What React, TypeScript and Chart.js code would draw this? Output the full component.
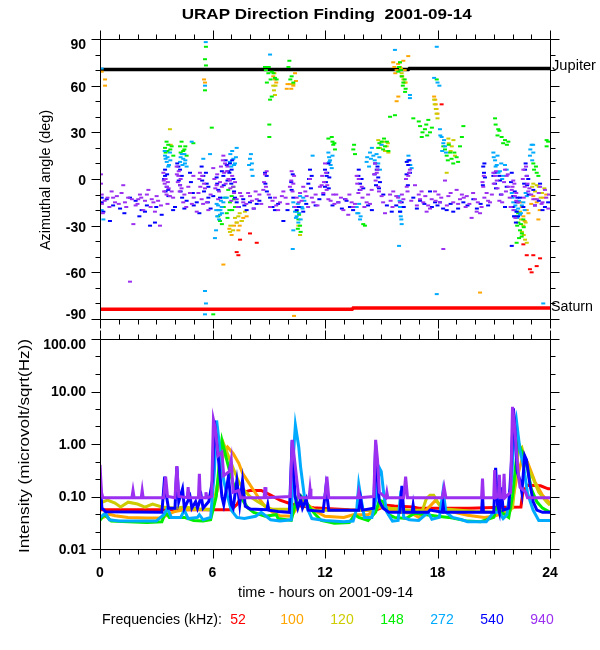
import React, { useEffect, useRef } from "react";
import { Chart, registerables } from "chart.js";

Chart.register(...registerables);

// ---------- labels / ticks ----------
const hourTicks = [0, 6, 12, 18, 24];
const angleTicks = [90, 60, 30, 0, -30, -60, -90];
const intensityTicks = [100, 10, 1, 0.1, 0.01];
const freqLabels = ["52", "100", "120", "148", "272", "540", "940"];
const freqColors = ["#ff0000", "#ffa500", "#cccc00", "#00ee00", "#00aaff", "#0000ff", "#9b30f0"];

// ---------- reference lines (time h, angle deg) ----------
const jupiterLine = [[0, 70.4], [16.45, 70.4], [16.5, 71.1], [24, 71.1]];
const saturnLine = [[0, -83.7], [13.45, -83.7], [13.5, -82.9], [24, -82.9]];

// ---------- azimuth points [hour, deg] ----------
const az940 = [
  [0.05, 3], [0.05, -3], [0.09, -10], [0.1, -16], [0.15, -22], [0.4, -12], [0.62, -8], [0.8, -15], [0.9, -11],
  [1.24, -4], [1.33, -15], [1.5, -12], [1.6, -66], [1.78, -29], [1.9, -17], [2.04, -13], [2.13, -10], [2.31, -20],
  [2.4, -14], [2.58, -7], [2.7, -18], [2.76, -13], [2.93, -21], [3.02, -11], [3.1, -14], [3.2, -30], [3.38, 4],
  [3.45, -3], [3.56, -5], [3.6, -16], [3.73, -11], [3.82, -8], [3.9, -12], [4.09, 8], [4.18, 2], [4.27, -4],
  [4.44, -15], [4.6, -18], [4.71, -5], [4.8, -9], [4.98, 2], [5.0, -12], [5.16, -21], [5.33, 4], [5.42, -13],
  [5.5, -16], [5.6, -6], [5.78, -20], [5.9, -10], [6.04, 7], [6.22, -4], [6.3, -13], [6.4, -2], [6.58, 15],
  [6.67, 10], [6.76, 5], [6.93, -1], [7.0, -14], [7.11, -5], [7.29, -13], [7.47, -9], [7.64, -15], [7.8, -16],
  [8.0, -11], [8.2, -19], [8.36, -13], [8.5, -10], [8.71, -7], [8.8, 3], [8.89, 5], [9.07, -18], [9.2, -14],
  [9.33, -12], [9.5, -20], [9.6, -15], [9.78, -8], [9.9, -12], [10.13, -5], [10.22, 5], [10.31, -3], [10.49, -12],
  [10.6, -15], [10.67, -9], [10.84, -5], [11.02, -11], [11.1, -18], [11.2, 0], [11.38, -15], [11.5, -10],
  [11.73, -5], [11.82, -4], [11.91, -9], [12.0, 10], [12.09, -7], [12.18, -13], [12.3, -14], [12.44, -10],
  [12.6, -10], [12.71, -15], [12.98, -20], [13.1, -13], [13.24, -23], [13.42, -15], [13.5, -18], [13.69, 2],
  [13.78, -9], [13.96, -5], [14.0, -12], [14.22, -15], [14.4, -16], [14.49, -7], [14.67, 10], [14.76, 4],
  [14.84, -5], [15.02, -11], [15.1, -15], [15.2, -22], [15.47, -10], [15.5, -14], [15.64, -8], [15.9, -12],
  [16.0, -15], [16.18, -13], [16.36, -5], [16.44, 2], [16.53, 6], [16.6, -14], [16.8, -4], [17.0, -10],
  [17.07, -13], [17.24, -15], [17.42, -21], [17.5, -17], [17.69, -13], [17.87, -8], [17.9, -14], [18.13, -15],
  [18.31, -45], [18.4, -1], [18.58, -11], [18.7, -9], [18.84, -15], [19.02, -7], [19.1, -16], [19.2, -13],
  [19.4, -12], [19.56, -11], [19.7, -16], [19.82, -25], [20.0, -13], [20.09, -21], [20.27, -22], [20.44, -5],
  [20.5, -12], [20.62, -9], [20.8, -15], [20.9, -10], [20.98, 4], [21.07, 2], [21.16, -1], [21.3, -14],
  [21.42, -10], [21.6, 6], [21.69, 2], [21.78, -5], [21.9, -18], [21.96, -7], [22.04, -1], [22.13, -11],
  [22.2, -9], [22.31, -15], [22.58, 6], [22.6, -12], [22.76, 2], [22.84, -8], [23.0, -10], [23.11, -13],
  [23.3, -13], [23.47, -5], [23.6, -15], [23.73, -7], [23.91, -19], [23.95, -10],
  [3.4, -1], [3.42, -8], [3.5, 0], [3.55, -10], [3.62, -2], [3.66, -6], [4.1, 3], [4.15, -2], [4.2, 5],
  [4.25, -8], [4.3, 0], [4.35, -6], [5.3, 0], [5.35, -5], [5.45, 2], [5.55, -3], [6.1, 0], [6.15, -6],
  [6.25, 3], [6.35, -8], [6.45, 8], [6.5, -5], [6.55, 12], [6.62, 4], [6.7, -3], [6.8, 8], [6.85, 0],
  [6.95, -6], [7.05, 2], [7.15, -9], [7.2, -2], [8.75, -2], [8.85, -5], [10.2, -1], [10.27, -8], [10.35, 2],
  [11.85, 2], [11.95, -2], [12.05, 4], [12.12, -4], [13.72, -3], [13.8, 0], [13.9, -7], [14.62, 3], [14.7, -1],
  [14.8, 6], [14.88, -8], [16.32, 0], [16.4, -8], [16.48, 4], [20.4, -2], [20.47, 2], [21.0, -3], [21.12, 5],
  [21.2, -6], [21.55, -2], [21.65, -8], [21.75, 3], [21.85, -12], [22.0, -5], [22.05, -20], [22.1, -3],
  [22.15, -25], [22.2, -14], [22.55, 0], [22.65, -5], [22.72, 8], [22.8, -3], [22.9, -6],
  [0.25, -14], [0.5, -18], [0.7, -12], [1.0, -16], [1.15, -9], [1.4, -18], [1.7, -13], [2.0, -16], [2.2, -12],
  [2.5, -10], [2.85, -15], [3.25, -17], [4.5, -10], [4.9, -16], [5.25, -9], [5.7, -15], [7.35, -18], [7.55, -11],
  [7.9, -9], [8.1, -14], [8.3, -8], [8.6, -16], [9.0, -10], [9.4, -17], [9.7, -11], [10.0, -16], [10.4, -18],
  [10.75, -14], [10.95, -8], [11.3, -12], [11.6, -17], [12.5, -16], [12.85, -12], [13.3, -10], [13.6, -16],
  [14.1, -18], [14.3, -10], [15.6, -18], [15.8, -11], [16.1, -10], [16.9, -17], [17.15, -8], [17.35, -11],
  [17.6, -19], [18.05, -10], [18.2, -12], [18.5, -17], [19.3, -10], [19.5, -18], [19.9, -9], [20.15, -15],
  [20.35, -18], [20.7, -14], [21.45, -15], [23.2, -17], [23.4, -9], [23.55, -16], [23.8, -12]
];
const az540 = [
  [0.09, -15], [0.09, -12], [0.18, -21], [0.36, -13], [0.53, -27], [1.07, -19], [1.6, -12], [2.22, -20],
  [2.4, -21], [2.67, -30], [2.93, -28], [3.29, -23], [3.47, 6], [3.47, 2], [3.56, -5], [3.64, -7], [4.0, -18],
  [4.18, 8], [4.27, 6], [4.36, 2], [4.27, -4], [4.62, -14], [4.8, 4], [5.16, -15], [5.42, 8], [5.51, 2],
  [5.69, -3], [5.78, -5], [5.78, -12], [6.04, -11], [6.22, 1], [6.31, -7], [6.58, 2], [6.76, 9], [6.84, 5],
  [6.93, 10], [7.02, 6], [7.11, 0], [7.29, -15], [7.64, -13], [7.82, -20], [8.0, -15], [8.36, -16], [8.8, 4],
  [8.89, 2], [9.07, -12], [9.33, -20], [9.78, -27], [10.22, -7], [10.31, -12], [10.49, -20], [10.84, -21],
  [11.11, -3], [11.2, 6], [11.29, 2], [11.91, -10], [12.0, 6], [12.09, 2], [12.0, -5], [12.18, 10], [12.23, 1],
  [12.71, -15], [13.07, -13], [13.33, -18], [13.78, 2], [13.87, -3], [14.04, -6], [14.67, 10], [14.76, 6],
  [14.84, 1], [14.93, -2], [15.11, -10], [15.56, -21], [16.0, -21], [16.09, -15], [16.36, 11], [16.44, 9],
  [16.53, 4], [16.71, -12], [17.07, -14], [17.6, -8], [17.87, -15], [18.13, -15], [18.49, -20], [18.84, -21],
  [19.38, -15], [19.91, -13], [20.44, 8], [20.48, 4], [20.53, 1], [20.98, 2], [21.07, -3], [21.33, -1],
  [21.69, -5], [21.96, 4], [21.96, -43], [22.04, -11], [22.22, -15], [22.22, -21], [22.4, -12], [22.58, -18],
  [22.67, 6], [22.76, 2], [22.84, 0], [23.11, -7], [23.47, -3], [23.73, -18],
  [3.42, 0], [3.5, -8], [3.58, 3], [3.65, -11], [4.12, 10], [4.2, -1], [4.3, -8], [4.38, -12], [4.85, -2],
  [4.95, -9], [5.45, -1], [5.55, -8], [5.65, 4], [5.75, -15], [6.25, -3], [6.4, -12], [6.5, 5], [6.6, -4],
  [6.7, 12], [6.8, -1], [6.9, 4], [7.0, -3], [7.05, 12], [7.15, -8], [7.2, -12], [8.82, -3], [8.9, -8],
  [10.2, -2], [10.28, 3], [11.15, 0], [11.25, -6], [12.05, -2], [12.12, 4], [12.2, -6], [13.8, 6], [13.85, -7],
  [13.95, 0], [14.65, 3], [14.72, -4], [14.8, 8], [14.88, -6], [16.35, 3], [16.42, -4], [16.5, 12], [20.42, -4],
  [20.5, 10], [21.05, 4], [21.12, -6], [21.3, 2], [21.38, -10], [21.92, -2], [22.0, -18], [22.08, -24],
  [22.12, -8], [22.18, -28], [22.26, -12], [22.3, -24], [22.62, -3], [22.7, 10], [22.78, -4], [22.86, -10],
  [0.7, -17], [1.3, -22], [1.9, -14], [2.1, -24], [2.5, -17], [3.0, -18], [3.9, -20], [4.5, -19], [5.0, -17],
  [5.3, -22], [5.9, -19], [7.4, -18], [7.7, -17], [8.2, -19], [8.5, -14], [9.2, -18], [9.5, -16], [10.0, -20],
  [10.6, -18], [11.0, -16], [11.5, -17], [11.7, -13], [12.4, -17], [12.9, -19], [13.15, -14], [13.5, -20],
  [14.3, -17], [14.5, -20], [15.3, -17], [15.8, -17], [16.2, -18], [16.9, -19], [17.3, -16], [17.7, -18],
  [18.0, -17], [18.3, -19], [18.7, -16], [19.1, -19], [19.6, -17], [20.1, -19], [20.3, -16], [20.7, -17],
  [21.6, -18], [23.2, -17], [23.4, -14], [23.6, -20], [23.9, -15]
];
const az272 = [
  [0.09, 71], [0.09, -20], [0.18, -26], [3.47, 15], [3.56, 11], [3.64, 8], [3.73, 17], [4.27, 11], [4.36, 16],
  [4.44, 13], [4.53, 10], [4.62, 8], [4.89, 24], [5.51, 13], [5.6, 60], [5.64, 88], [5.6, -72], [5.65, -80],
  [5.6, -87], [5.87, 16], [6.13, -38], [6.19, -33], [6.22, -16], [6.31, -20], [6.4, -23], [6.49, -18],
  [6.58, -15], [6.76, -12], [6.93, 11], [7.11, 13], [7.2, 10], [7.29, 20], [8.0, 13], [8.09, 6], [8.14, 2],
  [9.07, 80], [10.28, -45], [10.31, -15], [10.31, -33], [10.4, -21], [10.49, -24], [10.58, -28], [10.67, -11],
  [10.76, -18], [10.84, -12], [11.34, 15], [12.18, 17], [12.23, 11], [12.27, 12], [12.36, 7], [13.69, -18],
  [13.78, -22], [13.87, -26], [14.22, 11], [14.4, 17], [14.58, 15], [14.84, 10], [14.93, 6], [15.02, 22],
  [15.73, 83], [15.91, -11], [15.95, -43], [16.0, -18], [16.04, -24], [16.09, -29], [16.44, 12], [16.53, 52],
  [16.53, 54], [16.62, 7], [17.82, 65], [17.96, 85], [17.96, -74], [18.0, 62], [18.13, 32], [18.22, 27],
  [18.31, 23], [18.4, 21], [20.98, 17], [21.07, 12], [21.16, 9], [21.33, 5], [21.51, 2], [21.69, 6],
  [21.96, -9], [22.04, -15], [22.13, -20], [22.22, -21], [22.4, -23], [22.58, -15], [22.76, -11], [22.93, 15],
  [23.02, 22], [23.11, 17], [23.64, -80],
  [3.45, 18], [3.5, 13], [3.6, 14], [3.68, 9], [3.75, 12], [4.3, 14], [4.4, 9], [4.5, 16], [4.55, 12],
  [6.2, -20], [6.25, -24], [6.3, -17], [6.35, -26], [6.42, -20], [6.45, -14], [6.5, -22], [6.55, -12],
  [6.95, 16], [7.0, 8], [7.05, 18], [7.15, 9], [7.25, 14], [7.95, 9], [8.05, 16], [8.1, 10], [10.35, -18],
  [10.45, -25], [10.55, -16], [10.62, -22], [10.7, -26], [10.8, -19], [10.9, -14], [12.22, 14], [12.3, 9],
  [12.4, 15], [13.72, -22], [13.82, -16], [13.9, -24], [14.25, 14], [14.35, 8], [14.45, 13], [14.5, 20],
  [14.65, 12], [14.75, 16], [14.9, 14], [15.98, -14], [16.02, -21], [16.07, -26], [16.45, 15], [16.55, 9],
  [18.15, 28], [18.25, 18], [18.35, 25], [18.45, 17], [18.1, 60], [21.0, 14], [21.1, 8], [21.2, 15], [21.25, 4],
  [21.4, 10], [21.45, 0], [21.6, 9], [22.0, -12], [22.05, -18], [22.1, -24], [22.15, -17], [22.25, -25],
  [22.3, -19], [22.35, -14], [22.45, -22], [22.5, -17], [22.65, -20], [22.7, -9], [22.95, 19], [23.05, 12],
  [23.1, 22]
];
const az148 = [
  [3.47, 20], [3.64, 22], [3.82, 21], [3.91, 15], [4.27, 21], [4.44, 18], [4.62, 15], [4.98, 23], [5.6, 77],
  [5.65, 73], [5.65, 85], [5.6, 57], [5.96, 33], [6.04, -87], [6.31, -24], [6.4, -27], [6.76, -22], [6.84, -7],
  [6.93, -15], [7.02, -11], [7.11, -5], [7.2, -18], [8.8, 72], [8.98, 68], [9.03, 35], [9.03, 27], [9.07, 51],
  [9.16, 69], [9.16, 53], [9.33, 65], [9.42, 64], [10.1, 76], [10.22, 66], [10.31, 62], [10.49, -21],
  [10.58, -26], [10.67, -30], [10.7, -34], [12.18, 26], [12.36, 27], [12.44, 22], [12.53, 19], [13.51, 19],
  [13.6, 16], [14.04, -29], [14.13, -30], [14.84, 20], [15.02, 24], [15.2, 21], [15.38, 18], [15.47, 40],
  [15.73, 41], [15.91, 69], [16.0, 75], [16.09, 66], [16.18, 62], [16.27, 56], [16.71, 39], [17.07, 34],
  [17.16, 27], [17.33, 32], [17.51, 38], [17.6, 30], [17.96, 64], [18.31, 21], [18.49, 15], [18.67, 17],
  [18.84, 10], [19.02, 14], [19.2, 21], [19.38, 34], [21.07, 39], [21.24, 32], [21.42, 27], [21.6, 25],
  [21.78, 24], [22.22, -24], [22.31, -28], [22.4, -33], [22.49, -37], [22.22, -41], [22.58, -26], [23.11, 10],
  [23.29, 4], [23.38, 2], [23.82, 25], [23.82, 21],
  [3.5, 17], [3.55, 24], [3.6, 18], [3.75, 19], [4.3, 17], [4.35, 24], [4.5, 19], [4.55, 21], [6.35, -20],
  [6.5, -29], [6.6, -18], [6.7, -12], [6.8, -25], [6.9, -20], [7.05, -20], [7.15, -13], [8.85, 70], [8.9, 62],
  [9.0, 72], [9.1, 64], [9.25, 68], [10.05, 72], [10.15, 64], [10.55, -32], [10.62, -23], [12.4, 24], [12.5, 23],
  [13.55, 22], [14.9, 23], [15.1, 19], [15.15, 26], [15.3, 24], [15.95, 72], [16.05, 70], [16.15, 60],
  [16.25, 64], [16.3, 58], [17.0, 37], [17.2, 30], [17.4, 35], [17.45, 28], [17.7, 33], [18.4, 19], [18.55, 12],
  [18.6, 22], [18.75, 13], [18.9, 17], [19.1, 11], [19.3, 27], [21.1, 35], [21.2, 28], [21.3, 31], [21.5, 23],
  [21.7, 22], [22.25, -30], [22.3, -22], [22.35, -38], [22.45, -29], [22.5, -35], [22.6, -31], [23.15, 6],
  [23.25, 8], [23.9, 24]
];
const az120 = [
  [3.73, 32], [3.77, 22], [6.93, -34], [7.29, -28], [7.38, -24], [7.56, -27], [7.73, -21], [9.24, 60],
  [9.33, 54], [10.31, 61], [10.58, -30], [10.67, -36], [14.84, 25], [14.93, 20], [15.11, 24], [15.29, 21],
  [15.38, 17], [16.0, 75], [16.09, 68], [16.18, 64], [17.82, 51], [17.91, 45], [18.0, 39], [18.49, 4],
  [18.58, 26], [18.76, 21], [18.93, 15], [22.31, -15], [22.4, -21], [22.58, -30], [22.67, -39], [22.76, -41],
  [23.11, -3], [23.29, -4], [23.56, -9],
  [6.95, -30], [7.1, -33], [7.2, -25], [7.45, -22], [9.28, 57], [9.36, 60], [15.0, 22], [15.2, 18], [15.35, 23],
  [16.05, 71], [16.12, 66], [16.25, 62], [17.85, 48], [17.95, 42], [18.6, 23], [18.7, 18], [18.85, 25],
  [22.45, -26], [22.5, -34], [22.6, -36], [22.7, -28], [23.05, -5], [23.2, -8], [23.4, -5], [23.5, -12],
  [23.7, -6]
];
const az100 = [
  [0.09, 69], [0.27, 64], [0.27, 60], [5.55, 64], [5.6, 62], [6.58, -55], [7.02, -36], [7.29, -28], [7.38, -33],
  [7.64, -25], [7.82, -24], [9.24, 66], [9.33, 64], [9.96, 58], [10.13, 61], [10.31, 60], [10.4, 68],
  [10.35, -88], [15.64, 75], [15.82, 70], [15.82, 50], [15.91, 53], [16.18, 76], [16.44, 79], [17.82, 53],
  [17.91, 48], [18.0, 42], [20.27, -73], [22.4, -15], [22.58, -24], [22.76, -20], [23.11, -11], [23.29, -15],
  [23.38, -26], [23.56, -9],
  [6.9, -32], [7.15, -30], [7.45, -30], [7.55, -27], [9.3, 68], [9.4, 62], [10.0, 61], [10.2, 58], [10.45, 63],
  [15.7, 72], [15.75, 68], [15.9, 74], [16.0, 72], [16.1, 66], [16.25, 70], [16.3, 62], [17.88, 51], [17.95, 45],
  [22.5, -18], [22.65, -27], [22.85, -22], [23.0, -16], [23.2, -13], [23.45, -20], [23.65, -12], [23.8, -10]
];
const az52 = [
  [7.29, -47], [7.38, -49], [7.47, -39], [8.0, -35], [8.36, -41], [18.22, 48], [22.58, -42], [22.76, -49],
  [22.93, -58], [23.02, -60], [23.11, -49], [23.29, -56], [23.47, -51]
];

// ---------- intensity [hour, microvolt/sqrt(Hz)] ----------
const int940 = [
  [0, 0.4], [0.08, 0.12], [0.15, 0.095], [1.7, 0.095], [1.76, 0.13], [1.82, 0.095], [2.2, 0.095], [2.25, 0.13],
  [2.3, 0.095], [3.4, 0.095], [3.5, 0.24], [3.6, 0.1], [4.0, 0.095], [4.1, 0.38], [4.2, 0.1], [4.65, 0.095],
  [4.7, 0.15], [4.75, 0.095], [5.25, 0.095], [5.3, 0.27], [5.35, 0.095], [5.6, 0.095], [5.65, 0.12], [5.7, 0.095],
  [5.95, 0.1], [6.05, 2.9], [6.15, 2.0], [6.3, 0.6], [6.5, 0.7], [6.6, 0.25], [6.9, 0.3], [7.0, 0.5],
  [7.1, 0.12], [7.4, 0.13], [7.5, 0.095], [8.75, 0.095], [8.8, 0.15], [8.85, 0.095], [10.15, 0.1], [10.25, 1.2],
  [10.35, 0.6], [10.5, 0.2], [10.6, 0.095], [11.15, 0.095], [11.2, 0.14], [11.25, 0.095], [12.0, 0.095],
  [12.1, 0.24], [12.2, 0.095], [13.75, 0.095], [13.8, 0.12], [13.85, 0.095], [14.6, 0.1], [14.7, 1.2],
  [14.8, 0.5], [14.9, 0.12], [15.25, 0.095], [15.3, 0.12], [15.35, 0.095], [16.2, 0.095], [16.3, 0.24],
  [16.4, 0.095], [18.25, 0.095], [18.35, 0.15], [18.45, 0.095], [20.35, 0.095], [20.4, 0.22], [20.45, 0.095],
  [21.0, 0.095], [21.05, 0.32], [21.1, 0.095], [21.25, 0.1], [21.3, 0.26], [21.35, 0.095], [21.5, 0.095],
  [21.55, 0.27], [21.6, 0.095], [21.9, 0.12], [22.0, 5.1], [22.1, 2.5], [22.2, 0.8], [22.3, 0.3], [22.4, 0.15],
  [22.6, 0.13], [22.7, 0.12], [22.8, 0.095], [24, 0.095]
];
const int540 = [
  [0, 0.06], [0.03, 0.15], [0.1, 0.06], [0.3, 0.051], [3.3, 0.05], [3.45, 0.24], [3.55, 0.1], [3.65, 0.06],
  [4.0, 0.06], [4.1, 0.37], [4.2, 0.08], [4.4, 0.14], [4.5, 0.06], [4.8, 0.1], [4.9, 0.06], [5.1, 0.08],
  [5.2, 0.06], [5.4, 0.1], [5.5, 0.06], [5.8, 0.08], [6.0, 0.2], [6.1, 2.8], [6.2, 1.2], [6.35, 0.4],
  [6.5, 0.1], [6.6, 0.07], [6.85, 0.24], [7.0, 0.07], [7.1, 0.06], [7.3, 0.2], [7.45, 0.07], [7.6, 0.2],
  [7.75, 0.065], [8.0, 0.058], [8.9, 0.056], [8.95, 0.07], [9.0, 0.055], [9.5, 0.052], [10.1, 0.05],
  [10.25, 1.18], [10.4, 0.1], [10.55, 0.06], [10.7, 0.09], [10.8, 0.06], [11.0, 0.09], [11.1, 0.055],
  [11.9, 0.052], [12.05, 0.15], [12.2, 0.055], [13.8, 0.055], [13.9, 0.09], [14.0, 0.055], [14.6, 0.06],
  [14.7, 0.97], [14.8, 0.2], [14.9, 0.08], [15.1, 0.06], [15.4, 0.05], [16.0, 0.05], [16.1, 0.16], [16.2, 0.05],
  [16.65, 0.05], [16.7, 0.068], [16.75, 0.05], [17.5, 0.05], [17.6, 0.055], [18.25, 0.05], [18.3, 0.068],
  [18.35, 0.05], [20.35, 0.05], [20.4, 0.106], [20.45, 0.05], [21.0, 0.05], [21.1, 0.35], [21.2, 0.07],
  [21.3, 0.05], [21.4, 0.15], [21.5, 0.055], [21.8, 0.06], [21.95, 0.5], [22.05, 4.8], [22.15, 1.5],
  [22.25, 0.3], [22.4, 0.2], [22.5, 0.12], [22.65, 0.6], [22.75, 0.5], [22.9, 0.2], [23.1, 0.08], [23.3, 0.055],
  [23.6, 0.05], [24, 0.05]
];
const int272 = [
  [0, 0.04], [0.3, 0.048], [0.5, 0.036], [1.0, 0.034], [2.0, 0.034], [3.0, 0.034], [3.4, 0.045], [3.6, 0.06],
  [3.8, 0.04], [4.3, 0.04], [4.5, 0.055], [4.7, 0.038], [5.2, 0.04], [5.3, 0.045], [5.5, 0.036], [5.9, 0.04],
  [6.1, 0.3], [6.22, 2.8], [6.4, 0.76], [6.6, 0.2], [6.8, 0.1], [7.0, 0.055], [7.3, 0.04], [7.7, 0.038],
  [8.3, 0.042], [8.6, 0.05], [9.1, 0.036], [9.6, 0.034], [10.2, 0.036], [10.3, 0.5], [10.42, 2.3], [10.6, 0.88],
  [10.7, 0.36], [10.9, 0.1], [11.1, 0.055], [11.3, 0.038], [12.0, 0.035], [13.0, 0.033], [13.5, 0.034],
  [13.7, 0.06], [13.8, 0.17], [13.95, 0.08], [14.1, 0.04], [14.5, 0.04], [14.75, 0.1], [14.9, 0.35], [15.0, 0.3],
  [15.15, 0.1], [15.3, 0.05], [15.6, 0.034], [15.9, 0.035], [16.05, 0.13], [16.2, 0.04], [16.5, 0.036],
  [17.0, 0.035], [17.5, 0.05], [17.7, 0.037], [18.1, 0.04], [18.3, 0.13], [18.45, 0.05], [18.8, 0.04],
  [19.3, 0.036], [19.6, 0.033], [20.6, 0.033], [21.0, 0.05], [21.3, 0.05], [21.5, 0.038], [21.7, 0.045],
  [21.95, 0.2], [22.1, 2.0], [22.2, 3.0], [22.3, 1.5], [22.4, 0.76], [22.6, 0.36], [22.8, 0.115], [23.1, 0.055],
  [23.4, 0.035], [24, 0.035]
];
const int148 = [
  [0, 0.035], [0.2, 0.045], [0.4, 0.04], [0.6, 0.034], [1.5, 0.033], [2.5, 0.032], [3.3, 0.033], [3.5, 0.05],
  [3.7, 0.04], [4.5, 0.04], [5.0, 0.035], [5.5, 0.034], [5.9, 0.036], [6.2, 0.1], [6.4, 0.6], [6.5, 1.18],
  [6.7, 0.6], [6.9, 0.32], [7.1, 0.18], [7.4, 0.11], [7.6, 0.085], [7.9, 0.06], [8.2, 0.05], [8.8, 0.042],
  [9.4, 0.045], [9.5, 0.038], [10.2, 0.035], [10.45, 0.08], [10.6, 0.11], [10.9, 0.09], [11.2, 0.06],
  [11.5, 0.045], [11.8, 0.035], [12.5, 0.031], [13.3, 0.032], [13.6, 0.045], [13.8, 0.04], [14.3, 0.035],
  [14.7, 0.05], [14.9, 0.085], [15.1, 0.08], [15.4, 0.045], [15.7, 0.04], [16.3, 0.038], [16.8, 0.048],
  [17.4, 0.045], [18.0, 0.042], [18.6, 0.04], [19.6, 0.034], [20.3, 0.033], [21.0, 0.04], [21.2, 0.068],
  [21.4, 0.05], [21.8, 0.04], [22.0, 0.1], [22.3, 1.1], [22.5, 0.71], [22.8, 0.34], [23.0, 0.14], [23.3, 0.079],
  [23.6, 0.06], [24, 0.05]
];
const int120 = [
  [0, 0.075], [0.4, 0.085], [0.8, 0.075], [1.1, 0.063], [1.5, 0.078], [2.0, 0.072], [2.4, 0.063], [2.8, 0.072],
  [3.3, 0.063], [4.0, 0.06], [4.5, 0.063], [5.3, 0.058], [6.0, 0.055], [6.3, 0.2], [6.6, 1.0], [6.9, 0.53],
  [7.1, 0.35], [7.4, 0.19], [7.7, 0.13], [8.0, 0.1], [8.4, 0.08], [8.9, 0.063], [9.2, 0.057], [10.3, 0.057],
  [10.6, 0.075], [10.8, 0.075], [11.2, 0.06], [11.5, 0.055], [13.0, 0.055], [14.5, 0.055], [14.9, 0.065],
  [15.5, 0.06], [16.5, 0.055], [17.2, 0.055], [17.4, 0.09], [17.6, 0.106], [17.8, 0.106], [18.1, 0.068],
  [18.4, 0.058], [20.0, 0.052], [21.0, 0.05], [21.6, 0.055], [22.0, 0.06], [22.3, 0.7], [22.5, 0.85],
  [22.7, 0.45], [23.1, 0.22], [23.4, 0.12], [23.8, 0.08], [24, 0.068]
];
const int100 = [
  [0, 0.038], [0.3, 0.042], [0.5, 0.046], [0.8, 0.043], [1.5, 0.04], [2.5, 0.039], [3.3, 0.039], [3.6, 0.045],
  [4.0, 0.052], [4.5, 0.056], [5.5, 0.057], [6.0, 0.058], [6.3, 0.15], [6.6, 0.7], [6.8, 0.88], [7.1, 0.66],
  [7.4, 0.43], [7.6, 0.28], [7.9, 0.19], [8.2, 0.13], [8.5, 0.09], [8.8, 0.065], [9.2, 0.05], [9.6, 0.043],
  [10.2, 0.042], [10.5, 0.06], [10.75, 0.085], [11.2, 0.065], [11.6, 0.05], [12.0, 0.042], [13.0, 0.04],
  [13.5, 0.045], [14.3, 0.045], [14.8, 0.06], [15.2, 0.065], [15.5, 0.055], [16.0, 0.05], [16.6, 0.048],
  [17.0, 0.04], [17.5, 0.06], [17.9, 0.085], [18.3, 0.06], [18.9, 0.05], [19.6, 0.044], [20.5, 0.04],
  [21.0, 0.042], [21.5, 0.048], [21.9, 0.055], [22.2, 0.2], [22.5, 0.5], [22.8, 0.45], [23.2, 0.19],
  [23.6, 0.106], [24, 0.075]
];
const int52 = [
  [0, 0.056], [7.0, 0.056], [7.3, 0.07], [7.7, 0.122], [8.0, 0.13], [8.6, 0.13], [9.1, 0.106], [9.6, 0.085],
  [10.2, 0.072], [10.7, 0.066], [11.4, 0.061], [12.0, 0.059], [13.3, 0.056], [14.7, 0.055], [15.3, 0.068],
  [15.7, 0.066], [16.7, 0.063], [17.0, 0.06], [19.7, 0.06], [21.0, 0.062], [22.45, 0.063], [22.55, 0.12],
  [22.8, 0.164], [23.5, 0.16], [23.9, 0.14], [24, 0.14]
];

const azSeries = [az52, az100, az120, az148, az272, az540, az940];
const intSeries = [int52, int100, int120, int148, int272, int540, int940];

const FONT = '"Liberation Sans", Arial, Helvetica, sans-serif';

const toXY = (arr: number[][]) => arr.map(([x, y]) => ({ x, y }));

function fitText(
  ctx: CanvasRenderingContext2D, text: string, x: number, y: number, font: string,
  width: number, align: CanvasTextAlign = "center", color = "#000", rotate = 0
) {
  ctx.save();
  ctx.font = font;
  ctx.fillStyle = color;
  ctx.textBaseline = "middle";
  ctx.textAlign = align;
  const w = ctx.measureText(text).width;
  ctx.translate(x, y);
  if (rotate) ctx.rotate(rotate);
  if (width > 0) ctx.scale(width / w, 1);
  ctx.fillText(text, 0, 0);
  ctx.restore();
}

function drawFrame(chart: any, yTicks: { v: number; major: boolean }[]) {
  const { ctx, chartArea: a } = chart;
  const xs = chart.scales.x;
  const ys = chart.scales.y;
  const L = Math.round(a.left) + 0.5, R = Math.round(a.right) + 0.5;
  const T = Math.round(a.top) + 0.5, B = Math.round(a.bottom) + 0.5;
  ctx.save();
  ctx.strokeStyle = "#000";
  ctx.lineWidth = 1;
  ctx.beginPath();
  ctx.rect(L, T, R - L, B - T);
  for (let h = 0; h <= 24; h++) {
    const p = Math.round(xs.getPixelForValue(h)) + 0.5;
    const len = h % 6 === 0 ? 9 : 5;
    ctx.moveTo(p, T); ctx.lineTo(p, T - len);
    ctx.moveTo(p, B); ctx.lineTo(p, B + len);
  }
  for (const t of yTicks) {
    const p = Math.round(ys.getPixelForValue(t.v)) + 0.5;
    const len = t.major ? 9 : 5;
    ctx.moveTo(L, p); ctx.lineTo(L - len, p);
    ctx.moveTo(R, p); ctx.lineTo(R + len, p);
  }
  ctx.stroke();
  ctx.restore();
}

const topDecor = {
  id: "topDecor",
  afterDraw(chart: any) {
    const { ctx, chartArea: a } = chart;
    const ys = chart.scales.y;
    const yTicks = [];
    for (let d = -90; d <= 90; d += 10) yTicks.push({ v: d, major: d % 30 === 0 });
    drawFrame(chart, yTicks);
    for (const d of angleTicks) {
      let py = ys.getPixelForValue(d) + 2;
      py = Math.max(a.top + 6, Math.min(a.bottom - 4, py));
      fitText(ctx, String(d), 86, py, `bold 14px ${FONT}`, 0, "right");
    }
    fitText(ctx, "URAP Direction Finding  2001-09-14", 326.7, 15, `bold 15px ${FONT}`, 290);
    fitText(ctx, "Azimuthal angle (deg)", 46, 180, `14px ${FONT}`, 140, "center", "#000", -Math.PI / 2);
    fitText(ctx, "Jupiter", 552, ys.getPixelForValue(jupiterLine[3][1]) - 2, `14px ${FONT}`, 44, "left");
    fitText(ctx, "Saturn", 551, ys.getPixelForValue(saturnLine[3][1]) - 1, `14px ${FONT}`, 42, "left");
  },
};

const bottomDecor = {
  id: "bottomDecor",
  afterDraw(chart: any) {
    const { ctx, chartArea: a } = chart;
    const xs = chart.scales.x;
    const ys = chart.scales.y;
    const yTicks = [];
    for (let k = -6; k <= 6; k++) yTicks.push({ v: Math.pow(10, k / 3), major: k % 3 === 0 });
    drawFrame(chart, yTicks);
    for (const v of intensityTicks) {
      let py = ys.getPixelForValue(v) + 1;
      py = Math.max(a.top + 6, py);
      fitText(ctx, v.toFixed(2), 86, py, `bold 14px ${FONT}`, 0, "right");
    }
    for (const h of hourTicks) {
      fitText(ctx, String(h), xs.getPixelForValue(h), a.bottom + 24, `bold 14px ${FONT}`, 0, "center");
    }
    fitText(ctx, "time - hours on 2001-09-14", 325.6, a.bottom + 44, `14px ${FONT}`, 175);
    fitText(ctx, "Intensity (microvolt/sqrt(Hz))", 25, (a.top + a.bottom) / 2 + 2, `14px ${FONT}`, 214, "center", "#000", -Math.PI / 2);
    const ly = a.bottom + 71;
    fitText(ctx, "Frequencies (kHz):", 102, ly, `14px ${FONT}`, 120, "left");
    const centers = [238, 292, 342, 392, 442, 492, 542];
    freqLabels.forEach((f, i) => {
      fitText(ctx, f, centers[i], ly, `14px ${FONT}`, 0, "center", freqColors[i]);
    });
  },
};

export default function App() {
  const topRef = useRef<HTMLCanvasElement>(null);
  const botRef = useRef<HTMLCanvasElement>(null);

  useEffect(() => {
    const scatterSets = azSeries
      .map((arr, i) => ({
        label: freqLabels[i],
        data: toXY(arr),
        showLine: false,
        pointStyle: "line",
        pointRadius: 2,
        pointHoverRadius: 2,
        borderWidth: 2,
        borderColor: freqColors[i],
        backgroundColor: freqColors[i],
      }))
      .reverse();
    const top = new Chart(topRef.current!, {
      type: "scatter",
      data: {
        datasets: [
          ...scatterSets,
          {
            label: "Jupiter", data: toXY(jupiterLine), showLine: true, pointRadius: 0,
            borderColor: "#000", backgroundColor: "#000", borderWidth: 3.5,
          },
          {
            label: "Saturn", data: toXY(saturnLine), showLine: true, pointRadius: 0,
            borderColor: "#ff0000", backgroundColor: "#ff0000", borderWidth: 3.5,
          },
        ] as any,
      },
      options: {
        responsive: false,
        devicePixelRatio: 1,
        animation: false,
        events: [],
        layout: { padding: { left: 100, right: 50, top: 39, bottom: 11 } },
        plugins: { legend: { display: false }, tooltip: { enabled: false }, title: { display: false } },
        scales: {
          x: { type: "linear", min: 0, max: 24, display: false },
          y: { type: "linear", min: -90, max: 90, display: false },
        },
      },
      plugins: [topDecor],
    });

    const lineSets = intSeries
      .map((arr, i) => ({
        label: freqLabels[i],
        data: toXY(arr),
        showLine: true,
        pointRadius: 0,
        pointHoverRadius: 0,
        borderWidth: 3,
        borderColor: freqColors[i],
        backgroundColor: freqColors[i],
        tension: 0,
      }))
      .reverse();
    const bot = new Chart(botRef.current!, {
      type: "scatter",
      data: { datasets: lineSets as any },
      options: {
        responsive: false,
        devicePixelRatio: 1,
        animation: false,
        events: [],
        layout: { padding: { left: 100, right: 50, top: 14, bottom: 101 } },
        plugins: { legend: { display: false }, tooltip: { enabled: false }, title: { display: false } },
        scales: {
          x: { type: "linear", min: 0, max: 24, display: false },
          y: { type: "logarithmic", min: 0.01, max: 100, display: false },
        },
      },
      plugins: [bottomDecor],
    });

    return () => {
      top.destroy();
      bot.destroy();
    };
  }, []);

  return (
    <div style={{ position: "absolute", left: 0, top: 0, width: 600, height: 650, background: "#fff" }}>
      <canvas ref={topRef} width={600} height={330} style={{ position: "absolute", left: 0, top: 0 }} />
      <canvas ref={botRef} width={600} height={325} style={{ position: "absolute", left: 0, top: 325 }} />
    </div>
  );
}
